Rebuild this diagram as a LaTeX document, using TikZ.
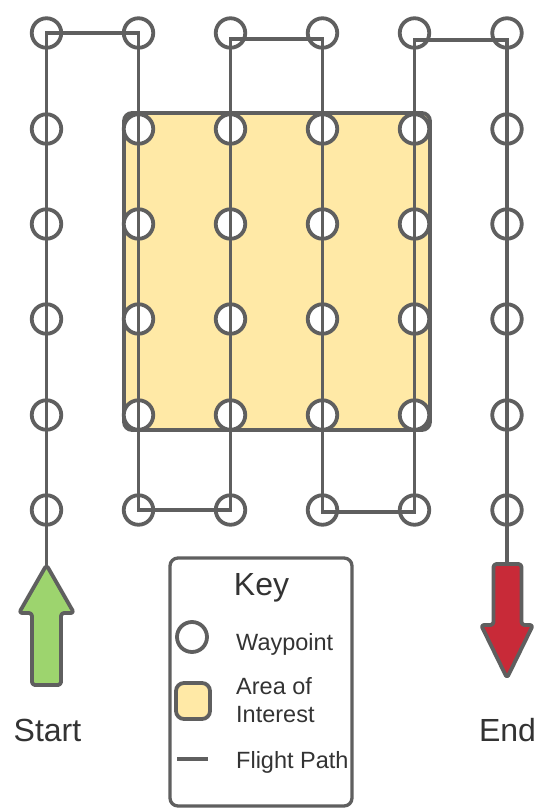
\documentclass[tikz,border=0pt]{standalone}
\usepackage{fontspec}
\setmainfont{Liberation Sans}
\usetikzlibrary{calc}
\definecolor{lgray}{HTML}{5F5F5F}
\definecolor{aoi}{HTML}{FFE9A6}
\definecolor{sgreen}{HTML}{9DD46E}
\definecolor{ered}{HTML}{C82A38}
\definecolor{txt}{HTML}{333333}
\begin{document}
\begin{tikzpicture}[x=1pt,y=-1pt,
  wp/.style={circle,draw=lgray,fill=white,line width=3.8pt,minimum size=29.5pt,inner sep=0pt},
  fpath/.style={draw=lgray,line width=3.3pt},
  box/.style={draw=lgray,line width=3.8pt,rounded corners=8pt},
  bigtxt/.style={font=\fontsize{32}{36}\selectfont,text=txt,inner sep=0pt,anchor=base},
  keytxt/.style={font=\fontsize{23.5}{28}\selectfont,text=txt,inner sep=0pt,anchor=base west,align=left}]
\useasboundingbox (0,0) rectangle (538,809);
\fill[white] (0,0) rectangle (538,809);
% area of interest
\draw[box,fill=aoi] (124,113) rectangle (430,430);
% waypoints
\foreach \c/\x in {1/46.5,2/138.5,3/230.5,4/322.5,5/414.5,6/507}{
  \foreach \r/\y in {0/33,1/129,2/224,3/319,4/415,5/510}{
    \node[wp] (n-\c-\r) at (\x,\y) {};
  }
}
% arrows
\coordinate (starttip) at (46.5,565);
\coordinate (endtop) at (507,564);
\filldraw[fill=sgreen,draw=lgray,line width=3.8pt,rounded corners=3pt,line join=round]
  (starttip) -- (74,613) -- (61,613) -- (61,685) -- (32,685) -- (32,613) -- (19,613) -- cycle;
\filldraw[fill=ered,draw=lgray,line width=3.8pt,rounded corners=3pt,line join=round]
  (521.5,564) -- (521.5,625) -- (533,625) -- (507,678) -- (481,625) -- (493.5,625) -- (493.5,564) -- cycle;
% flight path
\draw[fpath,line join=miter]
  (starttip) -- (n-1-5.center) -- (n-1-0.center) -- (n-2-0.center) -- (n-2-5.center)
  -- (n-3-5.center) -- ([yshift=-6pt]n-3-0.center) -- ([yshift=-6pt]n-4-0.center)
  -- ([yshift=-2pt]n-4-5.center) -- ([yshift=-2pt]n-5-5.center)
  -- ([yshift=-7pt]n-5-0.center) -- ([yshift=-7pt]n-6-0.center) -- (n-6-5.center) -- (endtop);
% labels
\node[bigtxt] (start) at (47.5,741) {Start};
\node[bigtxt] (end) at (507.5,741) {End};
% key
\draw[draw=lgray,line width=3.3pt,rounded corners=8pt,fill=white] (170,558) rectangle (352,806);
\node[bigtxt,font=\fontsize{32}{36}\selectfont] (key) at (261.5,595) {Key};
\node[wp,minimum size=30pt] (kwp) at (192,637) {};
\node[keytxt] (lwp) at (236,650) {Waypoint};
\draw[box,fill=aoi] (176,683) rectangle (210,719);
\node[keytxt] (laoi1) at (236,694) {Area of};
\node[keytxt] (laoi2) at (236,722.5) {Interest};
\coordinate (kl1) at (177,759);
\coordinate (kl2) at (208,759);
\draw[fpath,line width=4pt] (kl1) -- (kl2);
\node[keytxt] (lfp) at (236,768) {Flight Path};
\end{tikzpicture}
\end{document}
